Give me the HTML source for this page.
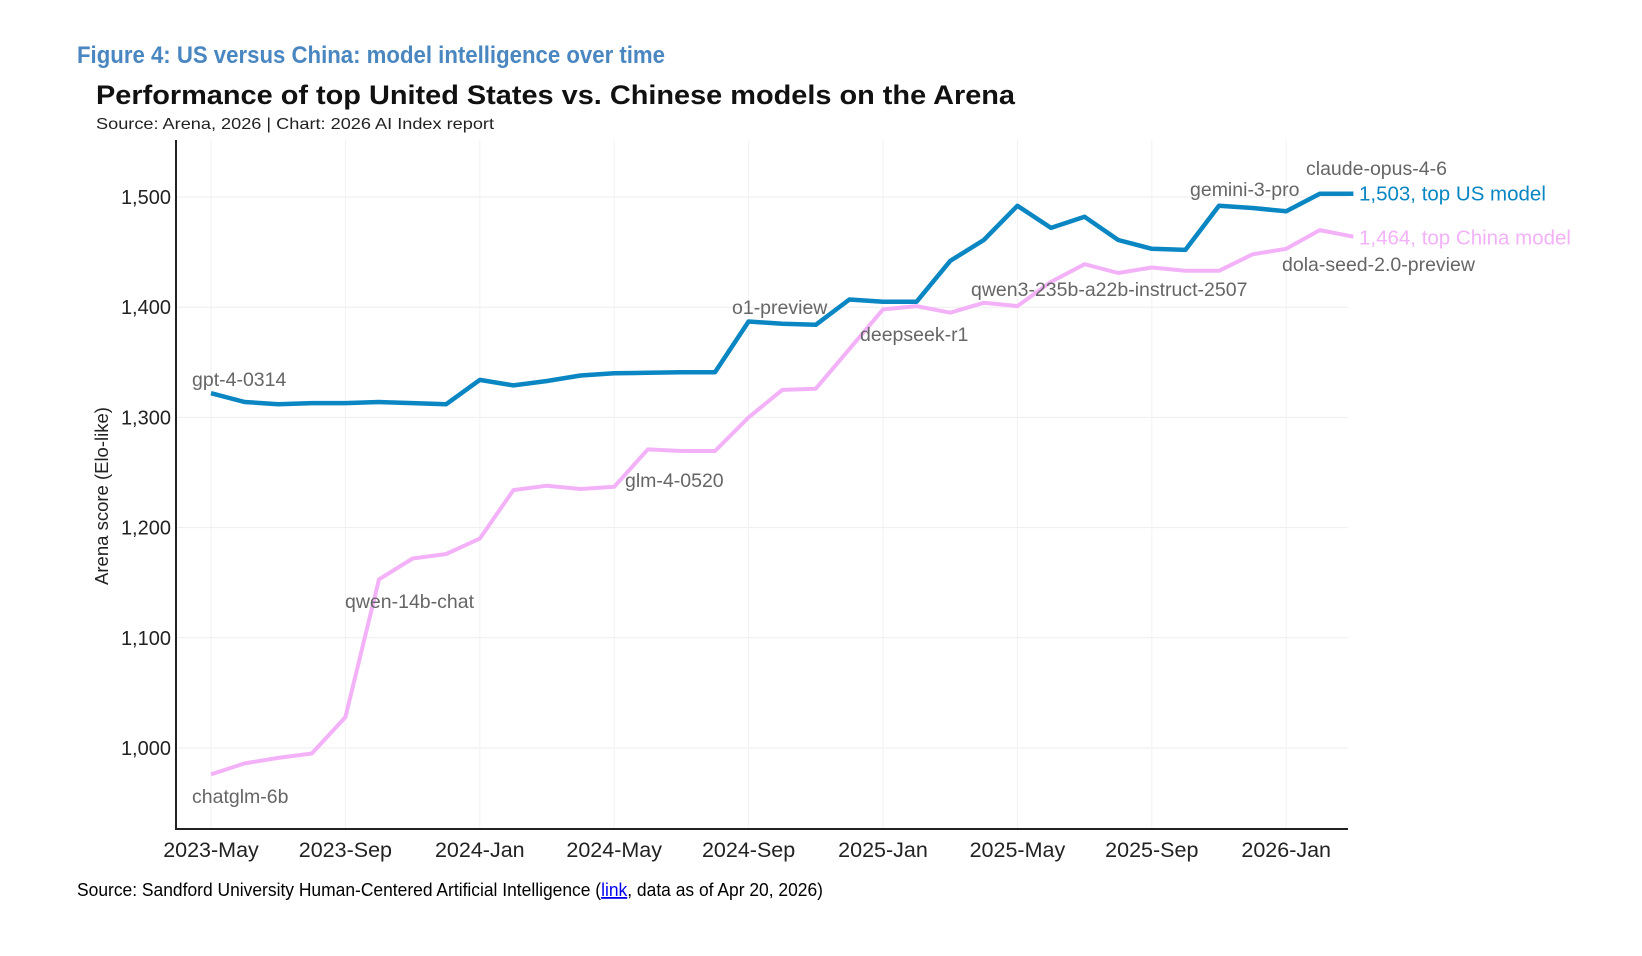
<!DOCTYPE html>
<html><head><meta charset="utf-8"><style>
html,body{margin:0;padding:0;background:#fff;width:1642px;height:956px;overflow:hidden}
svg text{font-family:"Liberation Sans",sans-serif}
</style></head><body>
<svg id="c" width="1642" height="956" viewBox="0 0 1642 956">
<text x="77" y="63" font-size="24" font-weight="bold" fill="#4a86c0" textLength="588" lengthAdjust="spacingAndGlyphs">Figure 4: US versus China: model intelligence over time</text>
<text x="96" y="104" font-size="27" font-weight="bold" fill="#111" textLength="919" lengthAdjust="spacingAndGlyphs">Performance of top United States vs. Chinese models on the Arena</text>
<text x="96" y="129" font-size="16" fill="#222" textLength="398" lengthAdjust="spacingAndGlyphs">Source: Arena, 2026 | Chart: 2026 AI Index report</text>
<g id="grid"></g><g id="axes"></g><g id="lines"></g><g id="labels"></g>
<text transform="translate(108,496) rotate(-90)" text-anchor="middle" font-size="18.5" fill="#222">Arena score (Elo-like)</text>
<text x="77" y="896" font-size="18" fill="#000" textLength="746" lengthAdjust="spacingAndGlyphs">Source: Sandford University Human-Centered Artificial Intelligence (<tspan fill="#00e" text-decoration="underline">link</tspan>, data as of Apr 20, 2026)</text>
</svg>
<script>
const xTickLabels=["2023-May","2023-Sep","2024-Jan","2024-May","2024-Sep","2025-Jan","2025-May","2025-Sep","2026-Jan"];
const yTicks=[1000,1100,1200,1300,1400,1500];
const usScores=[1322,1314,1312,1313,1313,1314,1313,1312,1334,1329,1333,1338,1340,1340.5,1341,1341,1387,1385,1384,1407,1405,1405,1442,1461,1492,1472,1482,1461,1453,1452,1492,1490,1487,1503,1503];
const cnScores=[976,986,991,995,1028,1153,1172,1176,1190,1234,1238,1235,1237,1271,1269.5,1269.5,1300,1325,1326,1362,1398,1401,1395,1404,1401,1423,1439,1431,1436,1433,1433,1448,1453,1470,1464];
const annotations=[["gpt-4-0314",0,"#666"],["chatglm-6b",0,"#666"],["qwen-14b-chat",5,"#666"],["glm-4-0520",13,"#666"],["o1-preview",16,"#666"],["deepseek-r1",20,"#666"],["qwen3-235b-a22b-instruct-2507",23,"#666"],["gemini-3-pro",30,"#666"],["claude-opus-4-6",33,"#666"],["dola-seed-2.0-preview",33,"#666"]];
const NS="http://www.w3.org/2000/svg";
const X0=211,MPX=33.6,PL=176,PR=1348,PT=140,PB=829;
function xs(m){return X0+m*MPX;}
function ys(v){return 748-(v-1000)*(748-197)/500;}
function mk(tag,attrs,parent){const e=document.createElementNS(NS,tag);for(const k in attrs)e.setAttribute(k,attrs[k]);document.getElementById(parent).appendChild(e);return e;}
yTicks.forEach(v=>{
 const l=mk('line',{x1:PL,x2:PR,y1:ys(v),y2:ys(v),stroke:'#eeeeee','stroke-width':1},'grid');
 
 
 const t=mk('text',{x:171,y:ys(v)+7,'text-anchor':'end','font-size':20,fill:'#222'},'axes');
 t.textContent=v.toLocaleString('en-US');
 
 
});
xTickLabels.forEach((s,i)=>{
 const x=xs(i*4);
 const l=mk('line',{x1:x,x2:x,y1:PT,y2:PB,stroke:'#f2f2f2','stroke-width':1},'grid');
 
 
 const t=mk('text',{x:x,y:857,'text-anchor':'middle','font-size':21.5,fill:'#222'},'axes');
 t.textContent=s;
 
 
});
const ya=mk('line',{x1:PL,x2:PL,y1:PT,y2:PB+1,stroke:'#222','stroke-width':2},'axes');


const xa=mk('line',{x1:PL-1,x2:PR,y1:PB,y2:PB,stroke:'#222','stroke-width':2},'axes');


function pts(a){return a.map((v,i)=>xs(i).toFixed(1)+','+ys(v).toFixed(1)).join(' ');}
const cn=mk('polyline',{points:pts(cnScores),fill:'none',stroke:'#f3b2f8','stroke-width':4,'stroke-linejoin':'round'},'lines');


const us=mk('polyline',{points:pts(usScores),fill:'none',stroke:'#0a86c2','stroke-width':4.5,'stroke-linejoin':'round'},'lines');


const annPos={"gpt-4-0314":[192,386],"chatglm-6b":[192,803],"qwen-14b-chat":[345,608],"glm-4-0520":[625,487],"o1-preview":[732,314],"deepseek-r1":[860,341],"qwen3-235b-a22b-instruct-2507":[971,296],"gemini-3-pro":[1190,196],"claude-opus-4-6":[1306,175],"dola-seed-2.0-preview":[1282,271]};
annotations.forEach(a=>{
 const p=annPos[a[0]];
 const t=mk('text',{x:p[0],y:p[1],'font-size':19.5,fill:a[2]},'labels');
 t.textContent=a[0];
 
 
});
const last=usScores.length-1;
const ul=mk('text',{x:1359,y:ys(usScores[last])+7,'font-size':20.5,fill:'#0a86c2'},'labels');
ul.textContent=usScores[last].toLocaleString('en-US')+', top US model';


const cl=mk('text',{x:1359,y:ys(cnScores[last])+8,'font-size':20.5,fill:'#f3b2f8'},'labels');
cl.textContent=cnScores[last].toLocaleString('en-US')+', top China model';


</script>
</body></html>
